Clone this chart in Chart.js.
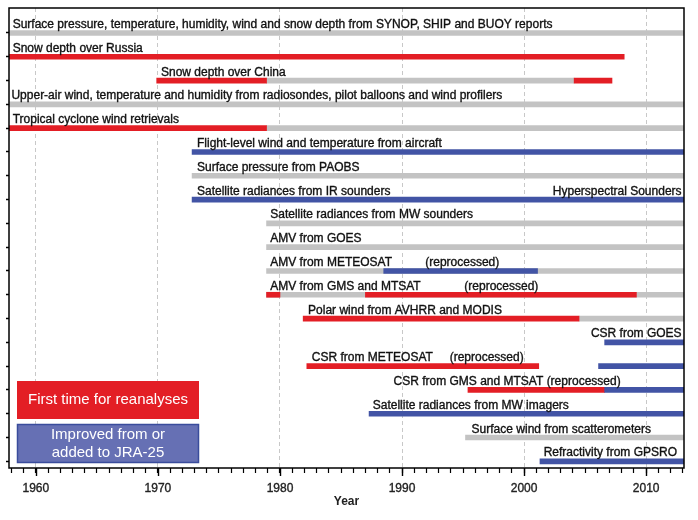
<!DOCTYPE html>
<html>
<head>
<meta charset="utf-8">
<script src="https://cdn.jsdelivr.net/npm/chart.js@4/dist/chart.umd.min.js"></script>
<style>
  html, body { margin: 0; padding: 0; background: #fff; }
  #wrap { width: 698px; height: 520px; }
</style>
</head>
<body>
<div id="wrap"><canvas id="myChart" width="698" height="520"></canvas></div>
<script>
// one row per observation type, top to bottom
var rowLabels = [
  'Surface pressure, temperature, humidity, wind and snow depth from SYNOP, SHIP and BUOY reports',
  'Snow depth over Russia',
  'Snow depth over China',
  'Upper-air wind, temperature and humidity from radiosondes, pilot balloons and wind profilers',
  'Tropical cyclone wind retrievals',
  'Flight-level wind and temperature from aircraft',
  'Surface pressure from PAOBS',
  'Satellite radiances from IR sounders',
  'Satellite radiances from MW sounders',
  'AMV from GOES',
  'AMV from METEOSAT',
  'AMV from GMS and MTSAT',
  'Polar wind from AVHRR and MODIS',
  'CSR from GOES',
  'CSR from METEOSAT',
  'CSR from GMS and MTSAT (reprocessed)',
  'Satellite radiances from MW imagers',
  'Surface wind from scatterometers',
  'Refractivity from GPSRO'
];
// year where each row label starts (CSR from GOES is right aligned)
var labelStart = [1958.1, 1958.1, 1970.25, 1958.0, 1958.1, 1973.2, 1973.2, 1973.2,
  1979.2, 1979.2, 1979.2, 1979.2, 1982.3, 2012.9, 1982.6, 1989.3, 1987.6, 1995.7, 2001.6];
// extra notes: [row, year, text]
var extraLabels = [
  [7, 2012.9, 'Hyperspectral Sounders'],
  [10, 1991.9, '(reprocessed)'],
  [11, 1995.1, '(reprocessed)'],
  [14, 1993.9, '(reprocessed)']
];

// periods: [row, from, to]
var grayBars = [
  [0, 1957.8, 2013.2], [2, 1978.9, 2004.1], [3, 1957.8, 2013.2], [4, 1978.9, 2013.2],
  [6, 1972.8, 2013.2], [8, 1978.9, 2013.2], [9, 1978.9, 2013.2], [10, 1978.9, 2013.2],
  [11, 1978.9, 2013.2], [12, 2004.5, 2013.2], [17, 1995.2, 2013.2]
];
var redBars = [
  [1, 1957.8, 2008.2], [2, 1969.9, 1978.9], [2, 2004.1, 2007.2], [4, 1957.8, 1978.9],
  [11, 1978.9, 1980.0], [11, 1987.0, 2009.2], [12, 1981.9, 2004.5], [14, 1982.2, 2001.2],
  [15, 1995.4, 2006.6]
];
var blueBars = [
  [5, 1972.8, 2013.2], [7, 1972.8, 2013.2], [10, 1988.5, 2001.1], [13, 2006.6, 2013.2],
  [14, 2006.1, 2013.2], [15, 2006.6, 2013.2], [16, 1987.3, 2013.2], [18, 2001.3, 2013.2]
];

var FONT = '"Liberation Sans", Arial, Helvetica, sans-serif';

function toPoints(list) {
  return list.map(function (b) { return { y: b[0], x: [b[1], b[2]] }; });
}

function heavyText(ctx, t, px, py) {
  ctx.strokeText(t, px, py);
  ctx.fillText(t, px, py);
}

var overlay = {
  id: 'overlay',
  afterDatasetsDraw: function (chart) {
    var ctx = chart.ctx, x = chart.scales.x, y = chart.scales.y, a = chart.chartArea;
    ctx.save();
    ctx.font = '12px ' + FONT;
    ctx.fillStyle = '#111';
    ctx.strokeStyle = '#111';
    ctx.lineWidth = 0.35;
    ctx.textBaseline = 'alphabetic';
    rowLabels.forEach(function (t, i) {
      ctx.textAlign = (i === 13) ? 'right' : 'left';
      heavyText(ctx, t, x.getPixelForValue(labelStart[i]), y.getPixelForValue(i) - 5);
    });
    extraLabels.forEach(function (e) {
      ctx.textAlign = (e[2] === 'Hyperspectral Sounders') ? 'right' : 'left';
      heavyText(ctx, e[2], x.getPixelForValue(e[1]), y.getPixelForValue(e[0]) - 5);
    });

    // longer ticks at the decades
    ctx.strokeStyle = '#000';
    ctx.lineWidth = 1.4;
    years.forEach(function (v) {
      if (v % 10 !== 0) return;
      var px = Math.round(x.getPixelForValue(v)) + 0.5;
      ctx.beginPath();
      ctx.moveTo(px, a.bottom);
      ctx.lineTo(px, a.bottom + 8);
      ctx.stroke();
    });

    // plot frame
    ctx.lineWidth = 1.5;
    ctx.strokeRect(a.left, a.top, a.right - a.left, a.bottom - a.top);

    // key boxes
    ctx.fillStyle = '#e31e25';
    ctx.fillRect(17, 381, 182, 38);
    ctx.fillStyle = '#6670b4';
    ctx.fillRect(17, 424, 182, 39);
    ctx.strokeStyle = '#3a4c9c';
    ctx.lineWidth = 1.5;
    ctx.strokeRect(17.5, 424.5, 181, 38);
    ctx.fillStyle = '#fff';
    ctx.font = '15px ' + FONT;
    ctx.textAlign = 'center';
    ctx.textBaseline = 'middle';
    ctx.fillText('First time for reanalyses', 108, 400);
    ctx.fillText('Improved from or', 108, 435);
    ctx.fillText('added to JRA-25', 108, 453);
    ctx.restore();
  }
};

var years = [];
for (var yr = 1958; yr <= 2013; yr++) years.push(yr);

var ctx = document.getElementById('myChart');
var myChart = new Chart(ctx, {
  type: 'bar',
  data: {
    datasets: [
      { label: 'Improved', data: toPoints(blueBars), backgroundColor: '#4254a5', order: 1 },
      { label: 'First time', data: toPoints(redBars), backgroundColor: '#e31e25', order: 2 },
      { label: 'Used', data: toPoints(grayBars), backgroundColor: '#c3c3c3', order: 3 }
    ]
  },
  options: {
    indexAxis: 'y',
    responsive: false,
    animation: false,
    datasets: { bar: { grouped: false, barThickness: 5, borderWidth: 0 } },
    layout: { padding: { top: 8, right: 14, left: 0, bottom: 0 } },
    plugins: { legend: { display: false }, tooltip: { enabled: false } },
    scales: {
      x: {
        type: 'linear',
        min: 1957.8,
        max: 2013.1,
        afterBuildTicks: function (s) { s.ticks = years.map(function (v) { return { value: v }; }); },
        ticks: {
          autoSkip: false, maxRotation: 0, padding: 8, color: '#222',
          textStrokeColor: '#222', textStrokeWidth: 0.35,
          font: { family: FONT, size: 12 },
          callback: function (v) { return v % 10 === 0 ? String(v) : ''; }
        },
        grid: {
          color: function (c) { return c.tick && c.tick.value % 10 === 0 ? '#c8c8c8' : 'rgba(0,0,0,0)'; },
          tickColor: '#000', tickLength: 5, tickWidth: 1.2
        },
        border: { display: false, dash: [4, 3] },
        title: { display: true, text: 'Year', color: '#222', font: { family: FONT, size: 12, weight: 'bold' }, padding: { top: 0, bottom: 11 } },
        afterFit: function (s) { s.height = 52; }
      },
      y: {
        type: 'linear',
        reverse: true,
        offset: false,
        min: -1.05,
        max: 18.28,
        afterBuildTicks: function (s) { s.ticks = rowLabels.map(function (t, i) { return { value: i }; }); },
        ticks: { display: false },
        grid: { offset: false, drawOnChartArea: false, tickLength: 3, tickColor: '#000', tickWidth: 1.5 },
        border: { display: false },
        afterFit: function (s) { s.width = 9; }
      }
    }
  },
  plugins: [overlay]
});
</script>
</body>
</html>
